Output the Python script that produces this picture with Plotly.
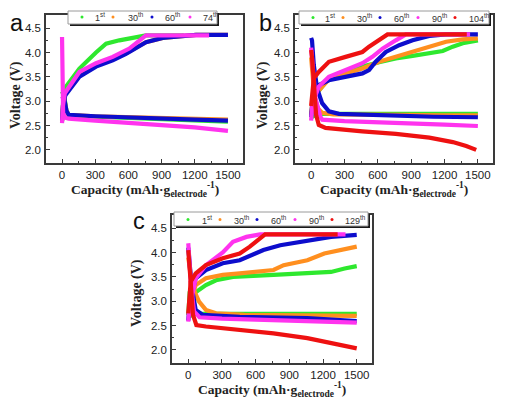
import plotly.graph_objects as go

# The page body adds an 8 px margin, so the figure is drawn 8 px in from the top-left corner.
OFF = 8
W, H = 509 - OFF, 404 - OFF

# ---------------- Panel a ----------------
a_cycles = ["1st", "30th", "60th", "74th"]
a_colors = ["#2ee82e", "#ff8f1f", "#0d0dcc", "#ff33ee"]
a1_dis_x = [0, 20, 40, 60, 300, 600, 900, 1200, 1500]
a1_dis_v = [3.2, 3.1, 2.8, 2.71, 2.68, 2.65, 2.63, 2.61, 2.58]
a30_dis_x = [0, 20, 40, 60, 300, 600, 900, 1200, 1500]
a30_dis_v = [3.1, 3.05, 2.8, 2.72, 2.69, 2.67, 2.65, 2.64, 2.62]
a60_dis_x = [0, 20, 40, 60, 300, 600, 900, 1200, 1500]
a60_dis_v = [3.1, 3.05, 2.8, 2.72, 2.69, 2.66, 2.64, 2.62, 2.60]
a74_dis_x = [0, 4, 10, 30, 60, 300, 600, 900, 1200, 1500]
a74_dis_v = [4.32, 3.4, 2.75, 2.66, 2.64, 2.60, 2.56, 2.51, 2.46, 2.39]
a1_chg_x = [0, 10, 36, 157, 307, 398, 518, 639, 759, 1100]
a1_chg_v = [2.58, 3.0, 3.3, 3.67, 4.0, 4.18, 4.25, 4.29, 4.35, 4.35]
a30_chg_x = [0, 10, 30, 157, 307, 458, 578, 669, 759, 910, 1060, 1211, 1500]
a30_chg_v = [2.6, 2.95, 3.15, 3.52, 3.73, 3.86, 3.98, 4.1, 4.21, 4.3, 4.34, 4.36, 4.36]
a60_chg_x = [0, 10, 30, 157, 307, 458, 578, 669, 759, 910, 1060, 1211, 1500]
a60_chg_v = [2.6, 2.95, 3.12, 3.5, 3.71, 3.84, 3.97, 4.1, 4.21, 4.3, 4.34, 4.36, 4.36]
a74_chg_x = [0, 8, 25, 66, 157, 307, 458, 608, 700, 759, 1330]
a74_chg_v = [2.55, 2.9, 3.16, 3.3, 3.6, 3.78, 3.91, 4.08, 4.25, 4.35, 4.35]

# ---------------- Panel b ----------------
b_cycles = ["1st", "30th", "60th", "90th", "104th"]
b_colors = ["#2ee82e", "#ff8f1f", "#0d0dcc", "#ff33ee", "#ee1111"]
b1_dis_x = [0, 20, 60, 300, 600, 900, 1200, 1500]
b1_dis_v = [2.8, 2.69, 2.74, 2.74, 2.74, 2.74, 2.74, 2.74]
b30_dis_x = [0, 10, 30, 60, 100, 200, 400, 800, 1200, 1500]
b30_dis_v = [3.9, 3.6, 3.1, 2.85, 2.76, 2.73, 2.72, 2.72, 2.71, 2.71]
b60_dis_x = [0, 8, 24, 54, 99, 160, 250, 500, 762, 1100, 1500]
b60_dis_v = [4.30, 4.25, 3.74, 3.26, 2.96, 2.79, 2.74, 2.72, 2.70, 2.68, 2.67]
b90_dis_x = [0, 10, 39, 84, 100, 300, 762, 1200, 1500]
b90_dis_v = [4.1, 3.8, 3.06, 2.68, 2.62, 2.59, 2.56, 2.52, 2.49]
b104_dis_x = [0, 8, 24, 45, 69, 130, 461, 762, 1063, 1274, 1395, 1485]
b104_dis_v = [4.05, 3.9, 3.4, 2.72, 2.51, 2.45, 2.38, 2.33, 2.25, 2.16, 2.08, 2.0]
b1_chg_x = [0, 10, 30, 160, 310, 461, 611, 762, 913, 1063, 1184, 1274, 1364, 1500]
b1_chg_v = [2.72, 2.9, 3.1, 3.47, 3.6, 3.71, 3.8, 3.88, 3.93, 3.98, 4.03, 4.12, 4.19, 4.25]
b30_chg_x = [0, 10, 30, 160, 310, 461, 611, 762, 913, 1063, 1214, 1364, 1500]
b30_chg_v = [2.72, 2.95, 3.12, 3.45, 3.57, 3.67, 3.81, 3.91, 4.01, 4.12, 4.22, 4.27, 4.29]
b60_chg_x = [0, 10, 30, 69, 160, 310, 461, 521, 581, 672, 792, 913, 1063, 1214, 1500]
b60_chg_v = [2.67, 2.95, 3.13, 3.33, 3.43, 3.5, 3.57, 3.64, 3.81, 4.01, 4.15, 4.25, 4.34, 4.37, 4.37]
b90_chg_x = [0, 10, 30, 69, 160, 310, 461, 551, 642, 762, 852, 1430]
b90_chg_v = [2.6, 2.9, 3.06, 3.3, 3.5, 3.64, 3.78, 3.91, 4.08, 4.25, 4.37, 4.37]
b104_chg_x = [0, 8, 24, 69, 160, 310, 461, 521, 611, 687, 1400]
b104_chg_v = [2.9, 3.2, 3.47, 3.6, 3.81, 3.91, 4.01, 4.12, 4.25, 4.37, 4.37]

# ---------------- Panel c ----------------
c_cycles = ["1st", "30th", "60th", "90th", "129th"]
c_colors = ["#2ee82e", "#ff8f1f", "#0d0dcc", "#ff33ee", "#ee1111"]
c1_dis_x = [0, 20, 60, 300, 600, 900, 1200, 1500]
c1_dis_v = [2.75, 2.70, 2.74, 2.74, 2.74, 2.74, 2.74, 2.74]
c30_dis_x = [0, 10, 36, 96, 157, 247, 500, 1000, 1500]
c30_dis_v = [3.9, 3.7, 3.3, 2.99, 2.82, 2.75, 2.72, 2.71, 2.70]
c60_dis_x = [0, 10, 30, 66, 127, 458, 1060, 1500]
c60_dis_v = [4.1, 3.8, 3.3, 2.82, 2.72, 2.68, 2.65, 2.59]
c90_dis_x = [0, 8, 25, 51, 100, 300, 759, 1200, 1500]
c90_dis_v = [4.19, 3.9, 3.3, 2.79, 2.67, 2.64, 2.61, 2.58, 2.56]
c129_dis_x = [0, 8, 21, 42, 72, 157, 458, 759, 1060, 1361, 1500]
c129_dis_v = [4.05, 3.85, 3.4, 2.72, 2.51, 2.48, 2.41, 2.34, 2.24, 2.1, 2.03]
c1_chg_x = [0, 12, 51, 157, 247, 398, 759, 1060, 1271, 1392, 1500]
c1_chg_v = [2.72, 3.16, 3.16, 3.33, 3.43, 3.5, 3.54, 3.57, 3.6, 3.67, 3.72]
c30_chg_x = [0, 10, 30, 66, 157, 307, 458, 608, 759, 849, 1060, 1211, 1361, 1500]
c30_chg_v = [2.72, 2.9, 3.06, 3.33, 3.47, 3.54, 3.57, 3.6, 3.64, 3.74, 3.84, 3.98, 4.05, 4.12]
c60_chg_x = [0, 10, 30, 66, 157, 307, 458, 578, 669, 819, 1060, 1271, 1500]
c60_chg_v = [2.6, 2.9, 3.13, 3.47, 3.64, 3.78, 3.84, 3.95, 4.05, 4.15, 4.25, 4.32, 4.36]
c90_chg_x = [0, 10, 30, 66, 157, 307, 398, 518, 639, 1400]
c90_chg_v = [2.58, 2.85, 3.06, 3.47, 3.74, 4.0, 4.22, 4.32, 4.37, 4.37]
c129_chg_x = [0, 8, 21, 66, 157, 307, 458, 548, 639, 684, 1330]
c129_chg_v = [2.75, 3.1, 3.4, 3.57, 3.74, 3.88, 3.98, 4.12, 4.29, 4.37, 4.37]

x_ticks = [0, 300, 600, 900, 1200, 1500]
y_ticks = [2.0, 2.5, 3.0, 3.5, 4.0, 4.5]
x_title = "<b>Capacity (mAh·g<sub>electrode</sub><sup>-1</sup>)</b>"
y_title = "<b>Voltage (V)</b>"

panels = [
    dict(ax="", cycles=a_cycles, colors=a_colors,
         dis=[(a1_dis_x, a1_dis_v), (a30_dis_x, a30_dis_v), (a60_dis_x, a60_dis_v), (a74_dis_x, a74_dis_v)],
         chg=[(a1_chg_x, a1_chg_v), (a30_chg_x, a30_chg_v), (a60_chg_x, a60_chg_v), (a74_chg_x, a74_chg_v)],
         px=(46, 243), py=(15, 163), letter="a", letter_pos=(8, 23),
         xt=(145, 189), yt=(16, 95),
         box=(68, 11, 217, 24), dots=[82, 113, 152, 190], texts=[93, 126, 163, 201], dot_y=17),
    dict(ax="2", cycles=b_cycles, colors=b_colors,
         dis=[(b1_dis_x, b1_dis_v), (b30_dis_x, b30_dis_v), (b60_dis_x, b60_dis_v), (b90_dis_x, b90_dis_v), (b104_dis_x, b104_dis_v)],
         chg=[(b1_chg_x, b1_chg_v), (b30_chg_x, b30_chg_v), (b60_chg_x, b60_chg_v), (b90_chg_x, b90_chg_v), (b104_chg_x, b104_chg_v)],
         px=(295, 493), py=(15, 163), letter="b", letter_pos=(257, 23),
         xt=(394, 189), yt=(263, 95),
         box=(299, 11, 489, 24), dots=[313, 343, 380, 418, 455], texts=[323, 355, 392, 430, 467], dot_y=17.5),
    dict(ax="3", cycles=c_cycles, colors=c_colors,
         dis=[(c1_dis_x, c1_dis_v), (c30_dis_x, c30_dis_v), (c60_dis_x, c60_dis_v), (c90_dis_x, c90_dis_v), (c129_dis_x, c129_dis_v)],
         chg=[(c1_chg_x, c1_chg_v), (c30_chg_x, c30_chg_v), (c60_chg_x, c60_chg_v), (c90_chg_x, c90_chg_v), (c129_chg_x, c129_chg_v)],
         px=(172, 372), py=(215, 363), letter="c", letter_pos=(131, 221),
         xt=(272, 389), yt=(137, 293),
         box=(174, 212, 368, 226), dots=[188, 220, 257, 295, 332], texts=[200, 232, 269, 307, 343], dot_y=219.5),
]


def PX(p):
    return (p - OFF) / W


def PY(p):
    return 1 - (p - OFF) / H


SERIF = "Liberation Serif"
SANS = "Liberation Sans"

fig = go.Figure()
shapes = []
annotations = []
layout = {}

for p in panels:
    xa = "x" + p["ax"]
    ya = "y" + p["ax"]
    for i, name in enumerate(p["cycles"]):
        col = p["colors"][i]
        for part, (xs, vs) in (("discharge", p["dis"][i]), ("charge", p["chg"][i])):
            fig.add_trace(go.Scatter(
                x=xs, y=vs, mode="lines", name=f"{name} {part}",
                line=dict(color=col, width=4.2), xaxis=xa, yaxis=ya,
                showlegend=False, hoverinfo="x+y+name"))
    axis_common = dict(
        showline=True, linecolor="#3a3a3a", linewidth=1.5, mirror=True,
        ticks="inside", ticklen=4, tickwidth=1.2, tickcolor="#3a3a3a",
        showgrid=False, zeroline=False, automargin=False,
        tickfont=dict(family=SANS, size=11.5, color="#222"),
        minor=dict(ticks="inside", ticklen=2.5, tickwidth=1, tickcolor="#3a3a3a", showgrid=False),
    )
    layout["xaxis" + p["ax"]] = dict(
        axis_common, domain=[PX(p["px"][0]), PX(p["px"][1])], range=[-145, 1636],
        anchor=ya, tickvals=x_ticks, ticktext=[str(v) for v in x_ticks],
        minor=dict(axis_common["minor"], dtick=150, tick0=0),
    )
    layout["yaxis" + p["ax"]] = dict(
        axis_common, domain=[PY(p["py"][1]), PY(p["py"][0])], range=[1.73, 4.77],
        anchor=xa, tickvals=y_ticks, ticktext=[f"{v:.1f}" for v in y_ticks],
        minor=dict(axis_common["minor"], dtick=0.25, tick0=0),
        ticklabelstandoff=1,
    )
    # axis titles
    annotations.append(dict(text=x_title, x=PX(p["xt"][0]), y=PY(p["xt"][1]),
                            xref="paper", yref="paper", xanchor="center", yanchor="middle",
                            showarrow=False, font=dict(family=SERIF, size=13.5, color="#222")))
    annotations.append(dict(text=y_title, x=PX(p["yt"][0]), y=PY(p["yt"][1]), textangle=-90,
                            xref="paper", yref="paper", xanchor="center", yanchor="middle",
                            showarrow=False, font=dict(family=SERIF, size=14, color="#222")))
    # panel letter
    annotations.append(dict(text=p["letter"], x=PX(p["letter_pos"][0]), y=PY(p["letter_pos"][1]),
                            xref="paper", yref="paper", xanchor="left", yanchor="middle", showarrow=False,
                            font=dict(family=SANS, size=23.5, color="#111")))
    # legend box with drop shadow
    x0, y0, x1, y1 = p["box"]
    shapes.append(dict(type="rect", xref="paper", yref="paper", layer="above",
                       x0=PX(x0 + 2), x1=PX(x1 + 2), y0=PY(y1 + 2), y1=PY(y0 + 2),
                       fillcolor="#1a1a1a", line=dict(width=0)))
    shapes.append(dict(type="rect", xref="paper", yref="paper", layer="above",
                       x0=PX(x0), x1=PX(x1), y0=PY(y1), y1=PY(y0),
                       fillcolor="white", line=dict(color="#9a9a9a", width=1)))
    for i, name in enumerate(p["cycles"]):
        dx = p["dots"][i]
        dy = p["dot_y"]
        shapes.append(dict(type="circle", xref="paper", yref="paper", layer="above",
                           x0=PX(dx - 1.5), x1=PX(dx + 1.5), y0=PY(dy + 1.5), y1=PY(dy - 1.5),
                           fillcolor=p["colors"][i], line=dict(width=0)))
        num = name[:-2]
        suf = name[-2:]
        annotations.append(dict(text=f"{num}<sup>{suf}</sup>", x=PX(p["texts"][i]), y=PY(dy),
                                xref="paper", yref="paper", xanchor="left", yanchor="middle",
                                showarrow=False,
                                font=dict(family=SANS, size=9, color="#333")))

fig.update_layout(
    width=W, height=H, autosize=False,
    margin=dict(l=0, r=0, t=0, b=0),
    paper_bgcolor="white", plot_bgcolor="white",
    showlegend=False, shapes=shapes, annotations=annotations,
    **layout,
)

fig.write_html("out.html")
